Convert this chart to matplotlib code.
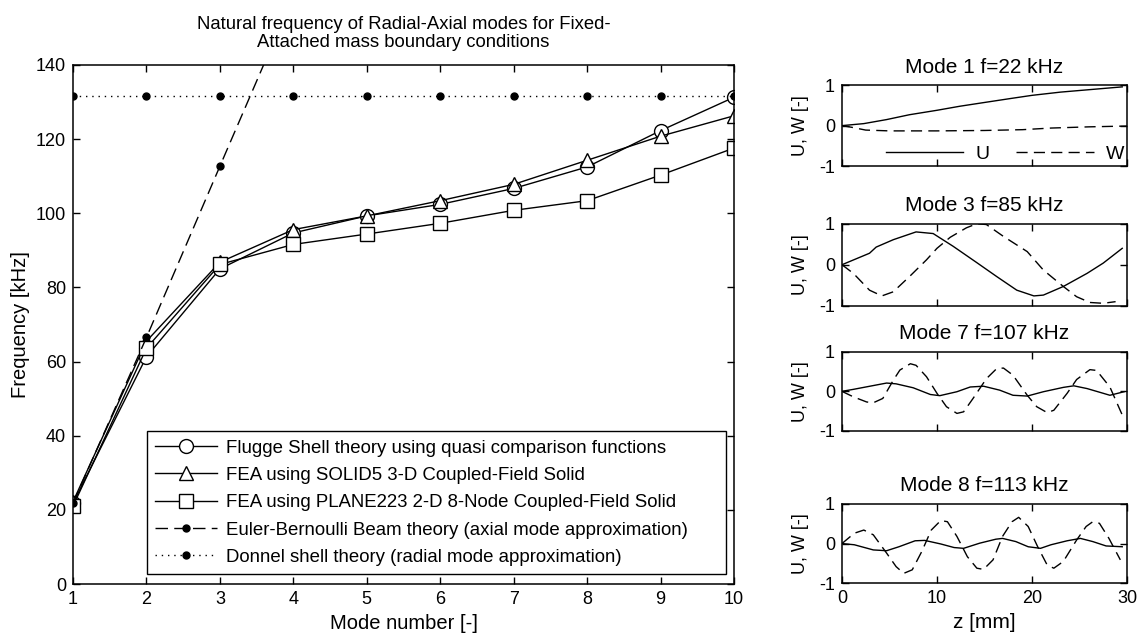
import matplotlib
matplotlib.use("Agg")
import matplotlib.pyplot as plt

# main chart data
modes = [1, 2, 3, 4, 5, 6, 7, 8, 9, 10]
flugge = [21.8, 61.3, 85.0, 94.7, 99.3, 102.4, 106.7, 112.5, 122.3, 131.3]
solid5 = [22.2, 65.5, 86.8, 95.6, 99.3, 103.4, 107.8, 114.3, 120.8, 126.3]
plane223 = [21.0, 63.6, 86.2, 91.6, 94.4, 97.3, 100.8, 103.4, 110.3, 117.6]
eb_modes = [1, 2, 3, 4]
euler_bernoulli = [21.8, 66.5, 112.7, 158.6]
donnel = [131.7, 131.7, 131.7, 131.7, 131.7, 131.7, 131.7, 131.7, 131.7, 131.7]

# mode shapes
z_m1_u = [0, 2.3, 4.7, 7.1, 10, 12.4, 14.9, 17.7, 20, 23, 26.5, 29.5]
u_m1 = [0, 0.05, 0.15, 0.27, 0.38, 0.48, 0.57, 0.67, 0.75, 0.83, 0.9, 0.96]
z_m1_w = [0, 1, 2.5, 5, 10, 15, 19, 22, 26, 30]
w_m1 = [0, -0.04, -0.11, -0.13, -0.13, -0.12, -0.10, -0.06, -0.03, -0.01]

z_m3_u = [0, 2.9, 3.6, 5.4, 7.8, 9.6, 11.7, 14.2, 16.3, 18.4, 20.2, 21.2, 23.3, 25.8, 27.5, 29.5]
u_m3 = [0, 0.28, 0.43, 0.61, 0.80, 0.76, 0.45, 0.05, -0.29, -0.62, -0.76, -0.74, -0.53, -0.21, 0.04, 0.40]
z_m3_w = [0, 1.2, 2.9, 4.2, 5.4, 7.1, 8.9, 10, 11.4, 13.1, 14.2, 15.2, 17, 19.5, 21.2, 23.3, 24.7, 26.1, 27.5, 28.8]
w_m3 = [0, -0.21, -0.62, -0.76, -0.66, -0.29, 0.12, 0.40, 0.67, 0.90, 1.0, 0.98, 0.69, 0.32, -0.13, -0.53, -0.78, -0.92, -0.94, -0.90]

z_m7_u = [0, 1.2, 3.6, 4.7, 5.7, 7.5, 9.3, 10.3, 12.1, 13.5, 14.9, 16.6, 18, 19.5, 21.2, 23.3, 24.4, 25.8, 27.5, 28.2, 29.7]
u_m7 = [0, 0.05, 0.16, 0.21, 0.19, 0.09, -0.08, -0.11, -0.01, 0.11, 0.13, 0.03, -0.10, -0.12, -0.01, 0.10, 0.14, 0.07, -0.05, -0.10, -0.01]
z_m7_w = [0, 1.2, 2.6, 3.3, 4.3, 5.4, 6.1, 7.2, 7.8, 8.9, 10, 11, 12.1, 12.8, 13.8, 15.2, 16.3, 17, 18, 19.5,
          20.5, 21.6, 22.3, 23.7, 24.7, 26.1, 26.8, 28.2, 29.5]
w_m7 = [0, -0.14, -0.27, -0.29, -0.18, 0.28, 0.54, 0.70, 0.66, 0.37, -0.05, -0.39, -0.56, -0.52, -0.18, 0.32, 0.58, 0.59, 0.41, -0.10,
        -0.39, -0.54, -0.48, -0.05, 0.30, 0.55, 0.53, 0.11, -0.60]

z_m8_u = [0, 1.3, 3.3, 4.7, 6, 7.7, 8.7, 10.4, 11.8, 12.8, 14.5, 16.2, 16.9, 18.3, 19.6, 20.9, 22, 23.7, 25.1, 26.4, 27.8, 29.5]
u_m8 = [0, -0.03, -0.16, -0.18, -0.08, 0.07, 0.08, -0.01, -0.10, -0.12, 0.01, 0.11, 0.13, 0.05, -0.08, -0.12, -0.03, 0.07, 0.13, 0.05, -0.06, -0.08]
z_m8_w = [0, 1.3, 2.3, 3.3, 4.7, 5.7, 6.5, 7.4, 8.4, 9.4, 10.4, 11.1, 12.1, 13.2, 14.2, 14.9, 15.9, 16.9, 17.9, 18.6, 19.6,
          20.6, 21.6, 22.3, 23.3, 24.7, 25.7, 26.4, 27.1, 28.1, 29.3]
w_m8 = [0, 0.26, 0.34, 0.22, -0.24, -0.58, -0.75, -0.66, -0.20, 0.34, 0.58, 0.55, 0.18, -0.33, -0.62, -0.65, -0.41, 0.18, 0.55, 0.66, 0.43,
        -0.08, -0.54, -0.62, -0.45, 0.09, 0.43, 0.55, 0.51, 0.13, -0.41]

mode_titles = ["Mode 1 f=22 kHz", "Mode 3 f=85 kHz", "Mode 7 f=107 kHz", "Mode 8 f=113 kHz"]

plt.rcParams["font.family"] = ["Liberation Sans", "DejaVu Sans"]
plt.rcParams["font.size"] = 13
plt.rcParams["axes.unicode_minus"] = False
plt.rcParams["lines.scale_dashes"] = False

fig = plt.figure(figsize=(11.37, 6.41), dpi=100)

def style_axes(ax):
    ax.tick_params(direction="in", top=True, right=True, length=5, width=1, pad=5)
    for s in ax.spines.values():
        s.set_linewidth(1.1)

# main plot
ax = fig.add_axes([0.0642, 0.0889, 0.5814, 0.8097])
mk = dict(color="black", lw=1.0, markerfacecolor="white", markeredgecolor="black", markersize=10)
ax.plot(modes, flugge, marker="o", label="Flugge Shell theory using quasi comparison functions", **mk)
ax.plot(modes, solid5, marker="^", label="FEA using SOLID5 3-D Coupled-Field Solid", **mk)
ax.plot(modes, plane223, marker="s", label="FEA using PLANE223 2-D 8-Node Coupled-Field Solid", **mk)
ax.plot(eb_modes, euler_bernoulli, color="black", lw=1.0, dashes=(9, 4.5), marker="o", markersize=5,
        label="Euler-Bernoulli Beam theory (axial mode approximation)")
ax.plot(modes, donnel, color="black", lw=1.0, dashes=(1, 3.5), marker="o", markersize=5,
        label="Donnel shell theory (radial mode approximation)")
ax.set_xlim(1, 10)
ax.set_ylim(0, 140)
ax.set_xticks(modes)
ax.set_yticks(range(0, 141, 20))
ax.set_xlabel("Mode number [-]", fontsize=14.5, labelpad=4)
ax.set_ylabel("Frequency [kHz]", fontsize=14.5)
ax.set_title("Natural frequency of Radial-Axial modes for Fixed-\nAttached mass boundary conditions",
             fontsize=13.3, pad=13, linespacing=1.1)
style_axes(ax)
leg = ax.legend(loc="lower left", bbox_to_anchor=(0.112, 0.019, 0.876, 0.283), mode="expand",
                fancybox=False, framealpha=1, edgecolor="black", handlelength=3.3, fontsize=13.4,
                handletextpad=0.5, labelspacing=0.55, borderpad=0.45, borderaxespad=0)
leg.get_frame().set_linewidth(1.0)

# mode shape panels
panel_rects = [
    [0.7405, 0.741, 0.2507, 0.126],
    [0.7405, 0.523, 0.2507, 0.128],
    [0.7405, 0.328, 0.2507, 0.123],
    [0.7405, 0.090, 0.2507, 0.124],
]
shapes = [
    (z_m1_u, u_m1, z_m1_w, w_m1),
    (z_m3_u, u_m3, z_m3_w, w_m3),
    (z_m7_u, u_m7, z_m7_w, w_m7),
    (z_m8_u, u_m8, z_m8_w, w_m8),
]
for i, (rect, (zu, u, zw, w), title) in enumerate(zip(panel_rects, shapes, mode_titles)):
    a = fig.add_axes(rect)
    a.plot(zu, u, color="black", lw=1.0, label="U")
    a.plot(zw, w, color="black", lw=1.0, dashes=(8, 4.5), label="W")
    a.set_xlim(0, 30)
    a.set_ylim(-1, 1)
    a.set_xticks([0, 10, 20, 30])
    a.set_yticks([-1, 0, 1])
    a.set_ylabel("U, W [-]", labelpad=7)
    a.set_title(title, fontsize=15, pad=9)
    style_axes(a)
    if i < 3:
        a.set_xticklabels([])
    else:
        a.set_xlabel("z [mm]", fontsize=15, labelpad=4)
    if i == 0:
        a.legend(loc="lower right", ncol=2, frameon=False, handlelength=4.0, handletextpad=0.6,
                 columnspacing=1.4, borderaxespad=0.05, borderpad=0.1, fontsize=14)

fig.savefig("out.png", dpi=100)
